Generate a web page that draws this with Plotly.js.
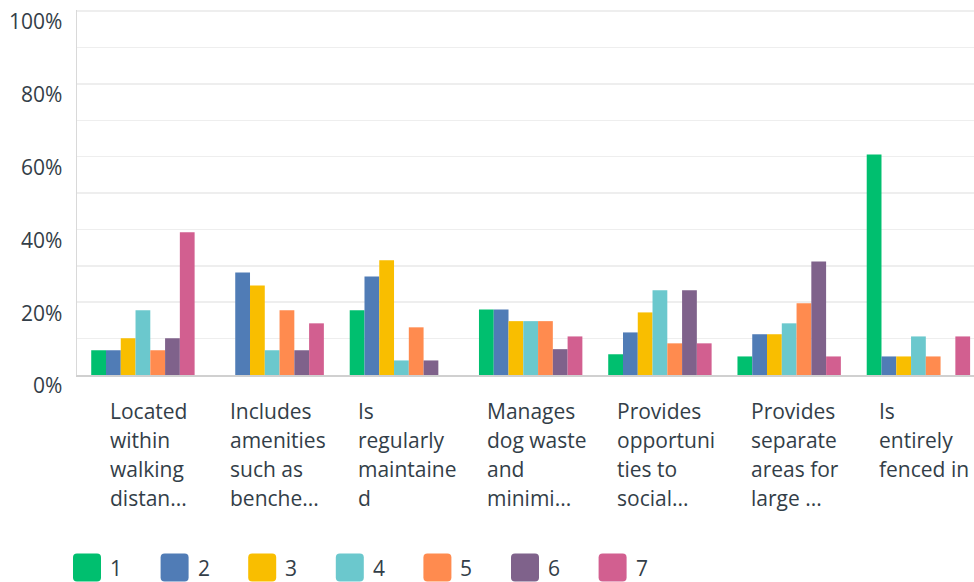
<!DOCTYPE html>
<html>
<head>
<meta charset="utf-8">
<script src="https://cdn.plot.ly/plotly-3.0.1.min.js"></script>
<style>
  html, body { margin: 0; padding: 0; background: #ffffff; }
  #chart { width: 974px; height: 582px; }
</style>
</head>
<body>
<div id="chart"></div>
<script>
// ---- Data ----
var categories = [
  "Located within walking distan...",
  "Includes amenities such as benche...",
  "Is regularly maintained",
  "Manages dog waste and minimi...",
  "Provides opportunities to social...",
  "Provides separate areas for large ...",
  "Is entirely fenced in"
];
var categoryLines = [
  ["Located", "within", "walking", "distan..."],
  ["Includes", "amenities", "such as", "benche..."],
  ["Is", "regularly", "maintaine", "d"],
  ["Manages", "dog waste", "and", "minimi..."],
  ["Provides", "opportuni", "ties to", "social..."],
  ["Provides", "separate", "areas for", "large ..."],
  ["Is", "entirely", "fenced in"]
];
var seriesNames = ["1", "2", "3", "4", "5", "6", "7"];
var seriesColors = ["#00bf6f", "#507cb6", "#f9be00", "#6bc8cd", "#ff8b4f", "#7f628b", "#d25f90"];
// values in percent, series x category
var s1 = [6.8, 0, 17.8, 18.0, 5.7, 5.1, 60.6];
var s2 = [6.8, 28.2, 27.1, 18.0, 11.7, 11.2, 5.1];
var s3 = [10.1, 24.6, 31.5, 14.8, 17.2, 11.2, 5.1];
var s4 = [17.8, 6.8, 4.0, 14.8, 23.3, 14.2, 10.6];
var s5 = [6.8, 17.8, 13.1, 14.8, 8.7, 19.7, 5.1];
var s6 = [10.1, 6.8, 4.0, 7.1, 23.3, 31.2, 0];
var s7 = [39.2, 14.2, 0, 10.6, 8.7, 5.1, 10.6];
var seriesValues = [s1, s2, s3, s4, s5, s6, s7];
var yTickVals = [0, 10, 20, 30, 40, 50, 60, 70, 80, 90, 100];
var yTickText = ["0%", "", "20%", "", "40%", "", "60%", "", "80%", "", "100%"];

// ---- Layout constants (pixels) ----
var W = 974, H = 582;
var M = {l: 77, r: 0, t: 10, b: 207};
var plotW = W - M.l - M.r, plotH = H - M.t - M.b;
function px2paperX(px) { return (px - M.l) / plotW; }
function px2paperY(py) { return (H - M.b - py) / plotH; }

var textColor = "#333e48";
var fontFamily = "'Open Sans', sans-serif";
var fs = 21;

var traces = seriesNames.map(function (name, i) {
  return {
    type: "bar",
    name: name,
    x: categories.map(function (c, k) { return k; }),
    y: seriesValues[i],
    marker: {color: seriesColors[i], line: {width: 0}},
    hoverinfo: "y+name"
  };
});

var annotations = [];
categoryLines.forEach(function (lines, k) {
  annotations.push({
    xref: "x", yref: "paper",
    x: k, y: px2paperY(395),
    xanchor: "center", yanchor: "top",
    xshift: 6,
    align: "left",
    showarrow: false,
    text: lines.map(function (l) { return '<span style="font-size:' + fs + 'px">' + l + '</span>'; }).join("<br>"),
    font: {family: fontFamily, size: 22.3, color: textColor}
  });
});

// custom legend
var shapes = [];
var legendY = 567.5, swSize = 28, r = 4, legStep = 87.6, legX0 = 73;
seriesNames.forEach(function (name, i) {
  var left = legX0 + i * legStep;
  var h = swSize / 2;
  var path = "M" + (-h + r) + "," + (-h) +
    " L" + (h - r) + "," + (-h) + " Q" + h + "," + (-h) + " " + h + "," + (-h + r) +
    " L" + h + "," + (h - r) + " Q" + h + "," + h + " " + (h - r) + "," + h +
    " L" + (-h + r) + "," + h + " Q" + (-h) + "," + h + " " + (-h) + "," + (h - r) +
    " L" + (-h) + "," + (-h + r) + " Q" + (-h) + "," + (-h) + " " + (-h + r) + "," + (-h) + " Z";
  shapes.push({
    type: "path",
    xref: "paper", yref: "paper",
    xsizemode: "pixel", ysizemode: "pixel",
    xanchor: px2paperX(left + h), yanchor: px2paperY(legendY),
    path: path,
    fillcolor: seriesColors[i],
    line: {width: 0},
    layer: "above"
  });
  annotations.push({
    xref: "paper", yref: "paper",
    x: px2paperX(left + swSize + 7), y: px2paperY(legendY),
    xanchor: "left", yanchor: "middle",
    showarrow: false,
    text: name,
    font: {family: fontFamily, size: fs, color: textColor}
  });
});

var layout = {
  width: W, height: H,
  margin: M,
  paper_bgcolor: "#ffffff",
  plot_bgcolor: "#ffffff",
  barmode: "group",
  bargap: 0.2,
  bargroupgap: 0,
  showlegend: false,
  font: {family: fontFamily, size: fs, color: textColor},
  xaxis: {
    range: [-0.51, 6.43],
    showticklabels: false,
    showgrid: false,
    zeroline: false,
    showline: true,
    linecolor: "#d0d0d0",
    linewidth: 2,
    ticks: "",
    fixedrange: true
  },
  yaxis: {
    range: [0, 100.3],
    tickvals: yTickVals,
    ticktext: yTickText,
    showgrid: true,
    gridcolor: "#eeeeee",
    gridwidth: 1.5,
    zeroline: false,
    showline: true,
    linecolor: "#d9d9d9",
    linewidth: 1.5,
    ticks: "",
    ticklabelstandoff: 9,
    ticklabelshift: 11,
    tickfont: {family: fontFamily, size: fs, color: textColor},
    fixedrange: true
  },
  annotations: annotations,
  shapes: shapes
};

Plotly.newPlot("chart", traces, layout, {displayModeBar: false, staticPlot: true});
</script>
</body>
</html>
